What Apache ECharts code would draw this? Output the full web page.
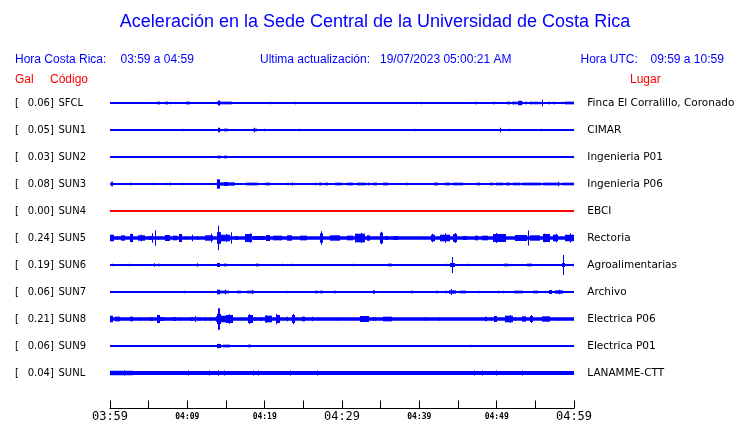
<!DOCTYPE html>
<html><head><meta charset="utf-8">
<script src="https://cdn.jsdelivr.net/npm/echarts@6/dist/echarts.min.js"></script>
<style>html,body{margin:0;padding:0;background:#fff}#c{width:740px;height:423px}</style>
</head><body><div id="c"></div>
<script>
// ---------------- DATA ----------------
const titleText = 'Aceleración en la Sede Central de la Universidad de Costa Rica';
const localLabel = 'Hora Costa Rica:', localRange = '03:59 a 04:59';
const updLabel = 'Ultima actualización:', updValue = '19/07/2023 05:00:21 AM';
const utcLabel = 'Hora UTC:', utcRange = '09:59 a 10:59';
const colHeaders = ['Gal', 'Código', 'Lugar'];

const codes  = ['SFCL','SUN1','SUN2','SUN3','SUN4','SUN5','SUN6','SUN7','SUN8','SUN9','SUNL'];
const places = ['Finca El Corralillo, Coronado','CIMAR','Ingenieria P01','Ingenieria P06','EBCI','Rectoria','Agroalimentarias','Archivo','Electrica P06','Electrica P01','LANAMME-CTT'];
const galMax = ['0.06','0.05','0.03','0.08','0.00','0.24','0.19','0.06','0.21','0.06','0.04'];
// continuous background noise half-amplitude (Gal)
const noiseAmp = [0,0,0,0,0,0.04,0,0,0.04,0,0.045];

// time axis: minutes after 03:59 local
const tickLabels = {0:'03:59',10:'04:09',20:'04:19',30:'04:29',40:'04:39',50:'04:49',60:'04:59'};
const majorTicks = [0,30,60];

// events: [start min, end min, half-amplitude Gal]
const evSFCL = [[6.14,6.47,0.03],[6.72,6.8,0.022],[7.11,7.5,0.03],[7.82,7.9,0.03],[8.11,8.15,0.022],[8.4,8.45,0.022],[8.92,8.97,0.015],[9.83,10.34,0.03],[10.69,10.75,0.022],[11.64,11.99,0.022],[12.93,13,0.015],[13.84,15.78,0.03],[13.97,14.16,0.055],[16.03,16.1,0.022],[18.32,18.38,0.022],[18.62,19.01,0.015],[20.69,20.75,0.03],[22.11,22.17,0.015],[23.86,24.05,0.03],[24.57,24.63,0.022],[38.79,38.85,0.015],[40.18,40.28,0.03],[44.61,44.67,0.015],[47.24,47.42,0.03],[49.56,49.74,0.03],[50.43,50.49,0.022],[51.29,51.72,0.03],[51.94,52.59,0.03],[52.72,53.44,0.03],[52.82,53.27,0.05],[53.66,53.92,0.03],[54.31,54.66,0.03],[54.83,55.34,0.03],[55.51,55.69,0.03],[55.86,55.95,0.073],[56.67,56.9,0.03],[57.24,57.58,0.03],[58.41,58.62,0.03],[58.83,60,0.03]];
const evSUN1 = [[9.35,9.42,0.03],[13.93,14.22,0.05],[14.22,14.35,0.03],[14.78,15.26,0.03],[17.88,17.94,0.015],[18.45,18.97,0.03],[18.62,18.7,0.05],[19.95,20.01,0.03],[24.48,24.54,0.03],[39.35,39.41,0.03],[50.43,50.6,0.05],[51.21,51.27,0.015],[51.64,51.7,0.03],[55.77,55.83,0.03]];
const evSUN2 = [[13.8,14.32,0.03],[14.74,15.17,0.03],[15.3,15.36,0.015]];
const evSUN3 = [[0.09,0.43,0.05],[0.78,0.84,0.015],[1.42,1.48,0.022],[2.59,2.84,0.03],[3.14,3.2,0.022],[3.97,4.03,0.022],[4.31,4.37,0.022],[4.75,4.81,0.022],[5.52,5.69,0.03],[6.04,6.1,0.022],[7.24,7.3,0.03],[7.67,7.89,0.03],[9.27,9.33,0.03],[10.77,10.83,0.022],[11.29,11.35,0.022],[13.88,14.22,0.105],[14.22,16.16,0.037],[14.74,15.3,0.044],[16.72,16.78,0.022],[17.16,17.22,0.022],[17.55,19.18,0.03],[20.04,20.69,0.03],[20.99,21.05,0.022],[21.56,21.62,0.022],[22.28,22.34,0.022],[22.85,23.19,0.03],[23.5,23.7,0.037],[24.57,24.63,0.022],[25.44,25.5,0.022],[26.51,26.73,0.03],[27.07,27.38,0.03],[27.8,28.15,0.03],[28.8,28.86,0.022],[29.1,29.96,0.03],[30.61,31.46,0.03],[31.9,33.1,0.03],[33.4,33.62,0.03],[34.05,34.57,0.03],[35.26,35.99,0.03],[38.28,38.57,0.03],[39.66,39.72,0.022],[40.09,40.15,0.022],[40.86,40.92,0.022],[41.38,41.44,0.022],[41.9,42.45,0.03],[43.32,43.97,0.03],[44.39,45.61,0.03],[46.77,46.83,0.022],[47.42,47.85,0.03],[48.71,48.77,0.022],[49.14,49.49,0.03],[49.88,50.86,0.03],[51.21,51.73,0.03],[52.08,53.02,0.03],[53.24,55.7,0.03],[56.03,58.19,0.03],[57.9,58.0,0.05],[58.41,60,0.03]];
const evSUN4 = [];
const evSUN5 = [[0,0.52,0.073],[0.87,1.07,0.037],[1.38,1.94,0.06],[2.59,3.01,0.089],[2.75,2.85,0.096],[3.66,4.53,0.06],[4.05,4.15,0.073],[5.08,5.6,0.044],[5.45,5.52,0.104],[5.84,5.91,0.17],[6.22,6.3,0.044],[7.11,7.76,0.067],[8.19,8.7,0.052],[8.88,9.27,0.089],[9.7,9.76,0.037],[10.57,10.63,0.073],[11.2,11.28,0.044],[12.28,13.36,0.06],[13.1,13.2,0.096],[13.8,14.32,0.13],[13.95,14.1,0.27],[14.32,15.52,0.073],[15.05,15.12,0.089],[15.7,15.8,0.13],[16.16,16.59,0.044],[17.46,18.32,0.089],[18.05,18.15,0.104],[18.53,20.04,0.044],[20.13,20.69,0.067],[21.12,22.2,0.052],[22.85,23.5,0.06],[24.57,25.44,0.052],[27.16,27.5,0.104],[27.25,27.33,0.15],[28.45,29.74,0.06],[30.61,31.46,0.052],[31.68,32.98,0.096],[32.46,32.58,0.111],[33.27,33.62,0.06],[34.92,35.34,0.118],[35.08,35.17,0.14],[35.56,35.99,0.044],[36.63,37.28,0.044],[41.51,42.03,0.073],[41.65,41.75,0.096],[42.67,43.97,0.073],[43.28,43.38,0.104],[44.39,44.83,0.089],[44.55,44.65,0.111],[45.69,46.12,0.044],[47.2,47.63,0.052],[48.07,48.92,0.052],[49.57,51.21,0.089],[49.95,50.05,0.111],[52.37,53.88,0.067],[54.05,54.15,0.167],[54.31,55.61,0.06],[56.03,56.9,0.089],[56.1,56.2,0.096],[57.25,57.97,0.073],[57.7,57.8,0.096],[58.83,60,0.073],[59.42,59.52,0.104]];
const evSUN6 = [[0.22,0.28,0.03],[1.38,1.44,0.015],[2.46,2.52,0.03],[5.73,5.79,0.037],[6.25,6.47,0.03],[11.21,11.27,0.037],[11.55,11.61,0.022],[13.88,14.22,0.044],[14.74,15.17,0.03],[17.88,17.94,0.015],[18.88,19.31,0.03],[19.62,19.68,0.022],[22.2,22.41,0.03],[23.5,23.56,0.03],[24.48,24.54,0.022],[25,25.06,0.022],[27.16,27.22,0.022],[31.38,31.44,0.03],[34.05,34.11,0.022],[35.34,35.4,0.022],[35.99,36.43,0.03],[43.45,43.62,0.03],[43.97,44.61,0.044],[44.17,44.27,0.178],[46.13,46.19,0.03],[49.49,49.55,0.022],[50.95,51.51,0.03],[51.73,51.79,0.03],[53.96,54.53,0.03],[57.12,57.18,0.022],[57.55,57.61,0.022],[58.4,58.8,0.044],[58.56,58.66,0.22],[59.91,59.97,0.03]];
const evSUN7 = [[9.05,9.11,0.015],[9.57,9.63,0.03],[13.88,14.22,0.052],[14.22,15.43,0.03],[14.84,14.92,0.052],[15.74,15.8,0.015],[16.46,16.9,0.03],[17.37,17.43,0.022],[17.68,18.62,0.03],[18.3,18.36,0.044],[18.79,18.85,0.022],[22.76,22.82,0.03],[26.51,26.94,0.03],[27.16,27.58,0.03],[29.0,29.23,0.03],[33.97,34.27,0.037],[35.21,35.27,0.022],[35.99,36.05,0.015],[37.59,37.65,0.015],[38.92,39.14,0.03],[42.16,42.45,0.03],[42.76,42.82,0.022],[43.32,43.62,0.03],[43.88,44.74,0.037],[44.13,44.23,0.067],[45.26,46.03,0.03],[46.46,46.52,0.022],[46.77,46.83,0.022],[47.59,47.65,0.03],[49.36,49.42,0.022],[50.14,50.2,0.03],[50.78,50.84,0.03],[51.5,51.56,0.022],[52.28,53.44,0.03],[54.66,55.39,0.03],[56.25,56.47,0.022],[56.81,57.12,0.044],[57.55,58.62,0.037],[58.05,58.15,0.052],[59.06,59.12,0.022]];
const evSUN8 = [[0,0.43,0.073],[0.65,1.29,0.052],[2.59,2.94,0.052],[3.85,3.91,0.037],[5.17,5.6,0.037],[6.04,6.47,0.089],[6.47,6.98,0.044],[8.19,8.53,0.044],[8.92,8.98,0.037],[10.47,10.77,0.044],[11.05,11.11,0.067],[11.39,11.45,0.044],[12.26,12.32,0.044],[12.9,12.96,0.044],[13.77,13.83,0.06],[13.85,14.3,0.111],[14.0,14.18,0.24],[14.22,15,0.073],[15,15.87,0.089],[15.38,15.5,0.104],[17.88,18.45,0.089],[17.95,18.1,0.111],[18.62,18.97,0.037],[19.31,19.62,0.037],[20.04,20.91,0.073],[20.2,20.35,0.089],[21.43,21.98,0.089],[21.43,21.53,0.118],[22.85,22.91,0.052],[23.5,23.92,0.089],[23.6,23.7,0.111],[24.79,25.22,0.052],[26.12,26.18,0.052],[26.94,27,0.037],[29.32,29.38,0.037],[32.33,33.53,0.067],[33.97,34.03,0.044],[34.27,34.33,0.037],[35.26,36.43,0.052],[40.73,40.79,0.044],[42.58,42.64,0.037],[48.49,48.71,0.052],[49.23,49.29,0.044],[49.69,50.01,0.067],[51.08,52.08,0.073],[51.66,51.76,0.089],[52.37,52.43,0.037],[53.24,53.8,0.06],[54.31,54.66,0.067],[54.4,54.5,0.089],[55.9,56.9,0.06],[57.97,58.03,0.037]];
const evSUN9 = [[13.88,14.32,0.044],[13.95,14.05,0.052],[14.65,15.52,0.03],[17.88,18.19,0.03],[18.79,18.85,0.022],[20.26,20.32,0.015],[21.56,21.62,0.015],[46.59,46.65,0.03]];
const evSUNL = [[0,2.97,0.05],[1.8,1.86,0.055],[10.13,10.19,0.055],[12.84,12.9,0.055],[14.0,14.06,0.06],[14.78,14.84,0.055],[18.45,18.51,0.055],[19.14,19.2,0.055],[23.28,23.34,0.055],[26.73,26.79,0.055],[47.07,47.13,0.055],[48.14,48.2,0.055],[49.88,49.94,0.055],[53.24,53.3,0.055]];
const events = [evSFCL,evSUN1,evSUN2,evSUN3,evSUN4,evSUN5,evSUN6,evSUN7,evSUN8,evSUN9,evSUNL];

// ---------------- CHART ----------------
const ROW = 0.6; // Gal offset between traces
const BLUE = '#0000ff', RED = '#ff0000';
const colorOf = code => code === 'SUN4' ? RED : BLUE;
const chart = echarts.init(document.getElementById('c'), null, {renderer: 'canvas'});

function renderItem(params, api) {
  const t0 = api.value(0), t1 = api.value(1), c = api.value(2), a = api.value(3);
  const p0 = api.coord([t0, c - a]), p1 = api.coord([t1, c + a]);
  const x0 = Math.round(p0[0]);
  const w = Math.max(1, Math.round(p1[0]) - x0);
  const y0 = Math.min(p0[1], p1[1]);
  const h = Math.max(1, Math.abs(p1[1] - p0[1]));
  return {type: 'rect', shape: {x: x0, y: y0, width: w, height: h}, style: {fill: api.visual('color')}};
}

const series = [];
codes.forEach((code, i) => {
  const c = i * ROW;
  series.push({
    type: 'line', silent: true, symbol: 'none', animation: false,
    data: [[0, c], [60, c]],
    lineStyle: {color: colorOf(code), width: 2}
  });
  const items = [];
  if (noiseAmp[i] > 0) items.push([0, 60, c, noiseAmp[i]]);
  events[i].forEach(e => items.push([e[0], e[1], c, e[2]]));
  series.push({
    type: 'custom', renderItem, silent: true, animation: false,
    itemStyle: {color: colorOf(code)},
    encode: {x: [0, 1], y: 2},
    data: items
  });
});

const txt = (text, x, y, font, fill, align) => ({
  type: 'text', x, y, silent: true,
  style: {text, font, fill, align: align || 'left', verticalAlign: 'middle', textAlign: align || 'left', textVerticalAlign: 'middle'}
});
const sans12 = '12px "Liberation Sans", Arial, sans-serif';
const dv10 = '10px "DejaVu Sans", sans-serif';
const dvPlace = '10.5px "DejaVu Sans", sans-serif';
const graphics = [
  txt(titleText, 375, 22, '18px "Liberation Sans", Arial, sans-serif', BLUE, 'center'),
  txt(localLabel, 15, 60, sans12, BLUE),
  txt(localRange, 120.5, 60, sans12, BLUE),
  txt(updLabel, 260, 60, sans12, BLUE),
  txt(updValue, 380, 60, sans12, BLUE),
  txt(utcLabel, 580.5, 60, sans12, BLUE),
  txt(utcRange, 650.5, 60, sans12, BLUE),
  txt(colHeaders[0], 15, 80, sans12, RED),
  txt(colHeaders[1], 50, 80, sans12, RED),
  txt(colHeaders[2], 630, 80, sans12, RED)
];
codes.forEach((code, i) => {
  const y = 103 + i * 27;
  graphics.push(txt('[', 15, y, dv10, '#000'));
  graphics.push(txt(galMax[i] + ']', 27.7, y, dv10, '#000'));
  graphics.push(txt(code, 58.5, y, dv10, '#000'));
  graphics.push(txt(places[i], 587.3, y, dvPlace, '#000'));
});

chart.setOption({
  animation: false,
  backgroundColor: '#fff',
  grid: {left: 110, top: 89.5, width: 464, height: 297, containLabel: false},
  xAxis: {
    type: 'value', min: 0, max: 60, interval: 5, offset: 22,
    axisLine: {show: true, onZero: false, lineStyle: {color: '#000', width: 1}},
    axisTick: {show: true, inside: true, length: 8, lineStyle: {color: '#000', width: 1}},
    splitLine: {show: false},
    axisLabel: {
      show: true, margin: 2, showMinLabel: true, showMaxLabel: true, hideOverlap: false,
      formatter: v => {
        const s = tickLabels[v];
        if (!s) return '';
        return majorTicks.includes(v) ? '{big|' + s + '}' : '{small|' + s + '}';
      },
      rich: {
        big: {fontFamily: '"DejaVu Sans Mono", monospace', fontSize: 12, color: '#000', lineHeight: 13},
        small: {fontFamily: '"DejaVu Sans Mono", monospace', fontSize: 8, fontWeight: 'bold', color: '#000', lineHeight: 13}
      }
    }
  },
  yAxis: {type: 'value', min: -0.3, max: 10 * ROW + 0.3, inverse: true, show: false},
  series,
  graphic: graphics
});
</script></body></html>
